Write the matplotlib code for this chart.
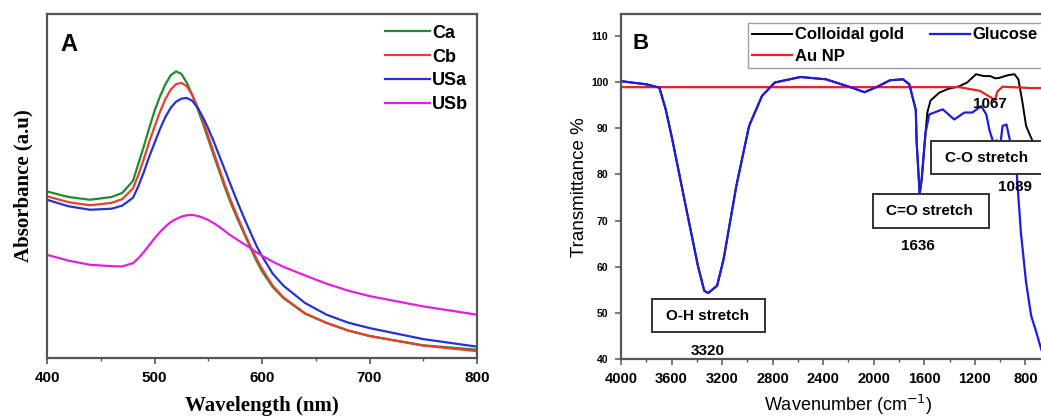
import matplotlib.pyplot as plt
from matplotlib.patches import Rectangle
import numpy as np

# ---- Panel A: UV-Vis absorbance ----
wl = [400, 420, 440, 460, 470, 480, 485, 490, 495, 500, 505, 510, 515, 520, 525, 530,
      535, 540, 545, 550, 555, 560, 565, 570, 575, 580, 585, 590, 595, 600, 610, 620,
      640, 660, 680, 700, 750, 800]
abs_ca = [0.484, 0.468, 0.460, 0.468, 0.480, 0.515, 0.565, 0.615, 0.668, 0.718, 0.760,
          0.795, 0.822, 0.833, 0.826, 0.800, 0.765, 0.725, 0.682, 0.636, 0.590, 0.545,
          0.500, 0.458, 0.420, 0.385, 0.350, 0.315, 0.282, 0.252, 0.206, 0.174, 0.129,
          0.102, 0.080, 0.064, 0.037, 0.024]
abs_cb = [0.470, 0.453, 0.444, 0.451, 0.462, 0.493, 0.533, 0.578, 0.628, 0.672, 0.715,
          0.752, 0.780, 0.796, 0.800, 0.790, 0.765, 0.730, 0.690, 0.645, 0.598, 0.552,
          0.507, 0.465, 0.427, 0.390, 0.354, 0.320, 0.288, 0.259, 0.210, 0.176, 0.130,
          0.102, 0.080, 0.064, 0.036, 0.020]
abs_usa = [0.460, 0.441, 0.431, 0.434, 0.443, 0.466, 0.500, 0.540, 0.585, 0.625, 0.665,
           0.700, 0.727, 0.745, 0.754, 0.756, 0.748, 0.728, 0.700, 0.667, 0.630, 0.590,
           0.550, 0.510, 0.470, 0.432, 0.395, 0.360, 0.325, 0.296, 0.245, 0.210, 0.160,
           0.126, 0.103, 0.087, 0.055, 0.033]
abs_usb = [0.300, 0.283, 0.271, 0.267, 0.266, 0.276, 0.290, 0.308, 0.328, 0.348, 0.366,
           0.382, 0.395, 0.404, 0.411, 0.415, 0.416, 0.413, 0.408, 0.401, 0.392, 0.382,
           0.370, 0.358, 0.348, 0.338, 0.328, 0.318, 0.307, 0.297, 0.280, 0.265, 0.240,
           0.216, 0.196, 0.180, 0.150, 0.126]

# ---- Panel B: FTIR transmittance ----
wn_common = [4000, 3797, 3696, 3645, 3594, 3493, 3391, 3341, 3310, 3239, 3188, 3087,
             2986, 2884, 2783, 2580, 2377, 2174, 2073, 1971, 1870, 1768, 1718, 1667,
             1660, 1636, 1620, 1590]
t_common = [100.2, 99.5, 98.8, 94.0, 87.6, 73.9, 60.2, 54.8, 54.3, 55.9, 61.6, 77.5,
            90.5, 97.0, 99.9, 101.1, 100.6, 98.8, 97.8, 99.0, 100.4, 100.6, 99.5, 94.0,
            87.0, 75.7, 79.0, 89.0]
wn_gold_tail = [1575, 1550, 1481, 1413, 1322, 1261, 1190, 1129, 1078, 1038, 1008, 936,
                886, 855, 825, 794, 744, 688, 652, 550, 400]
t_gold_tail = [93.5, 96.0, 97.7, 98.5, 99.1, 99.9, 101.7, 101.3, 101.3, 100.8, 100.9,
               101.5, 101.7, 100.6, 96.0, 90.5, 87.3, 85.9, 85.5, 85.0, 85.0]
wn_glu_tail = [1560, 1454, 1363, 1282, 1220, 1149, 1109, 1084, 1043, 1028, 1003, 980,
               949, 911, 870, 835, 794, 754, 713, 673]
t_glu_tail = [93.0, 94.1, 91.9, 93.4, 93.4, 94.8, 93.0, 89.6, 86.0, 87.4, 85.3, 90.5,
              90.8, 86.0, 81.0, 67.4, 56.6, 49.4, 45.8, 42.0]
wn_au = [4000, 1322, 1160, 1068, 1043, 1020, 980, 754, 400]
t_au = [98.9, 98.9, 98.1, 96.6, 95.9, 98.0, 99.0, 98.7, 98.7]

wn_gold = wn_common + wn_gold_tail
t_gold = t_common + t_gold_tail
wn_glu = wn_common + wn_glu_tail
t_glu = t_common + t_glu_tail

fig = plt.figure(figsize=(10.41, 4.18), dpi=100)
spine_col = "#555555"

# ---------------- Panel A ----------------
axA = fig.add_axes([0.0452, 0.1435, 0.413, 0.823])
axA.plot(wl, abs_ca, color="#1f8c2a", lw=1.6, label="Ca")
axA.plot(wl, abs_cb, color="#e8402f", lw=1.6, label="Cb")
axA.plot(wl, abs_usa, color="#2233d6", lw=1.6, label="USa")
axA.plot(wl, abs_usb, color="#e020e0", lw=1.6, label="USb")
axA.set_xlim(400, 800)
axA.set_ylim(0, 1)
axA.set_xticks([400, 500, 600, 700, 800])
axA.set_xticks([450, 550, 650, 750], minor=True)
axA.set_yticks([])
for lab in axA.get_xticklabels():
    lab.set_fontfamily("Liberation Sans")
    lab.set_fontweight("bold")
    lab.set_fontsize(11)
axA.tick_params(axis="x", direction="out", length=4, width=1.2, color=spine_col, pad=5)
axA.tick_params(axis="x", which="minor", direction="out", length=2.5, width=1, color=spine_col)
for s in axA.spines.values():
    s.set_color(spine_col)
    s.set_linewidth(1.6)
axA.set_xlabel("Wavelength (nm)", fontfamily="Liberation Serif", fontweight="bold",
               fontsize=15, labelpad=8)
axA.set_ylabel("Absorbance (a.u)", fontfamily="Liberation Serif", fontweight="bold",
               fontsize=15, labelpad=10)
axA.text(0.03, 0.945, "A", transform=axA.transAxes, fontfamily="Liberation Sans",
         fontweight="bold", fontsize=17, va="top")
axA.legend(loc="upper right", bbox_to_anchor=(1.0, 0.995), frameon=False,
           handlelength=2.5, handletextpad=0.1, borderaxespad=0.1, labelspacing=0.38,
           prop={"family": "Liberation Sans", "weight": "bold", "size": 13})

# ---------------- Panel B ----------------
axB = fig.add_axes([0.5965, 0.141, 0.437, 0.825])
axB.plot(wn_gold, t_gold, color="black", lw=1.4, label="Colloidal gold")
axB.plot(wn_au, t_au, color="#e82020", lw=1.6, label="Au NP")
axB.plot(wn_glu, t_glu, color="#1d1de0", lw=1.6, label="Glucose")
axB.set_xlim(4000, 400)
axB.set_ylim(40, 114.7)
axB.set_xticks(np.arange(4000, 799, -400))
axB.set_xticks(np.arange(3800, 399, -400), minor=True)
axB.set_yticks(np.arange(40, 111, 10))
for lab in axB.get_xticklabels():
    lab.set_fontfamily("Liberation Sans")
    lab.set_fontweight("bold")
    lab.set_fontsize(10.5)
for lab in axB.get_yticklabels():
    lab.set_fontfamily("Liberation Sans")
    lab.set_fontweight("bold")
    lab.set_fontsize(7.5)
axB.tick_params(direction="out", length=4, width=1.1, color=spine_col, pad=5)
axB.tick_params(which="minor", direction="out", length=2.5, width=1, color=spine_col)
for s in axB.spines.values():
    s.set_color(spine_col)
    s.set_linewidth(1.6)
axB.set_xlabel("Wavenumber (cm$^{-1}$)", fontfamily="Liberation Sans", fontsize=13,
               labelpad=5)
axB.set_ylabel("Transmittance %", fontfamily="Liberation Sans", fontsize=13.5, labelpad=2)
axB.text(0.025, 0.945, "B", transform=axB.transAxes, fontfamily="Liberation Sans",
         fontweight="bold", fontsize=16, va="top")
axB.legend(loc="upper left", bbox_to_anchor=(0.28, 0.974), ncol=2, frameon=True,
           fancybox=False, edgecolor="#888888", handlelength=2.4, handletextpad=0.15,
           columnspacing=1.55, borderpad=0.25, borderaxespad=0, labelspacing=0.4,
           prop={"family": "Liberation Sans", "weight": "bold", "size": 12})

afont = dict(fontfamily="Liberation Sans", fontweight="bold", fontsize=11)
for x0, x1, y0, y1 in [(3755, 2862, 45.8, 53.0), (2005, 1089, 68.3, 75.7),
                       (1544, 600, 80.0, 87.2)]:
    axB.add_patch(Rectangle((x1, y0), x0 - x1, y1 - y0, facecolor="white",
                            edgecolor="#333333", lw=1.4, zorder=3))
axB.text(3312, 49.4, "O-H stretch", ha="center", va="center", zorder=4, **afont)
axB.text(3310, 41.8, "3320", ha="center", va="center", zorder=4, **afont)
axB.text(1555, 72.1, "C=O stretch", ha="center", va="center", zorder=4, **afont)
axB.text(1650, 64.5, "1636", ha="center", va="center", zorder=4, **afont)
axB.text(1104, 83.6, "C-O stretch", ha="center", va="center", zorder=4, **afont)
axB.text(885, 77.3, "1089", ha="center", va="center", zorder=4, **afont)
axB.text(1083, 95.2, "1067", ha="center", va="center", zorder=4, **afont)

fig.savefig("out.png", dpi=100)
